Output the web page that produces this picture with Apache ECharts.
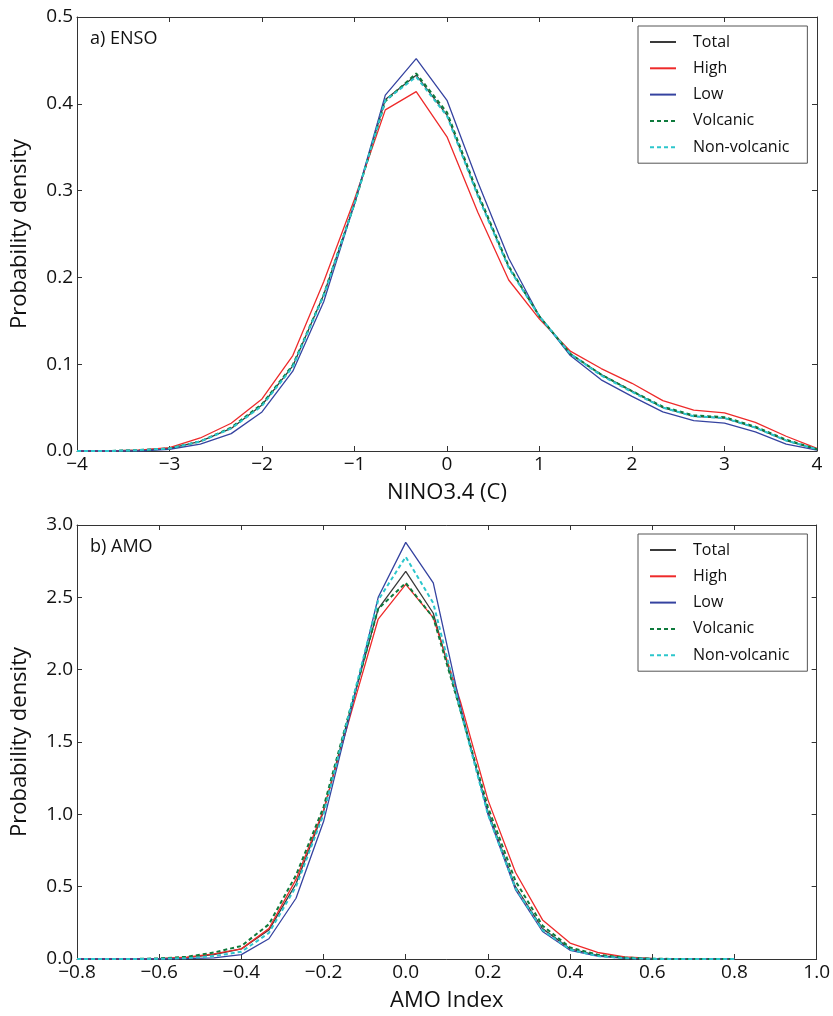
<!DOCTYPE html>
<html>
<head>
<meta charset="utf-8">
<script src="https://cdn.jsdelivr.net/npm/echarts@6/dist/echarts.min.js"></script>
<style>
html,body{margin:0;padding:0;background:#fff;}
#c{width:833px;height:1016px;}
</style>
</head>
<body>
<div id="c"></div>
<script>
// ---- ENSO panel data ----
var ensoX = [-4,-3.667,-3.333,-3,-2.667,-2.333,-2,-1.667,-1.333,-1,-0.667,-0.333,0,0.333,0.667,1,1.333,1.667,2,2.333,2.667,3,3.333,3.667,4];
var ensoTotal = [0,0,0.001,0.003,0.011,0.026,0.053,0.098,0.180,0.285,0.405,0.433,0.387,0.295,0.212,0.155,0.112,0.088,0.069,0.050,0.040,0.038,0.027,0.012,0.002];
var ensoHigh = [0,0,0.001,0.004,0.015,0.032,0.060,0.110,0.195,0.290,0.393,0.414,0.362,0.275,0.197,0.152,0.115,0.095,0.078,0.058,0.047,0.044,0.033,0.017,0.003];
var ensoLow = [0,0,0,0.002,0.008,0.020,0.045,0.092,0.172,0.285,0.410,0.452,0.404,0.310,0.222,0.155,0.110,0.082,0.063,0.045,0.035,0.032,0.022,0.008,0.001];
var ensoVolc = [0,0,0.001,0.003,0.011,0.027,0.054,0.099,0.180,0.285,0.403,0.435,0.390,0.297,0.213,0.155,0.112,0.088,0.069,0.051,0.041,0.039,0.028,0.013,0.002];
var ensoNonVolc = [0,0,0.001,0.003,0.011,0.026,0.052,0.097,0.179,0.285,0.404,0.431,0.386,0.294,0.211,0.155,0.112,0.087,0.068,0.050,0.040,0.038,0.027,0.012,0.002];

// ---- AMO panel data ----
var amoX = [-0.8,-0.733,-0.667,-0.6,-0.533,-0.467,-0.4,-0.333,-0.267,-0.2,-0.133,-0.067,0,0.067,0.133,0.2,0.267,0.333,0.4,0.467,0.533,0.6,0.667,0.733,0.8];
var amoTotal = [0,0,0,0.002,0.010,0.030,0.070,0.200,0.520,1.020,1.740,2.420,2.680,2.390,1.720,1.020,0.500,0.210,0.070,0.025,0.008,0.002,0,0,0];
var amoHigh = [0,0,0,0.003,0.012,0.035,0.070,0.210,0.550,1.030,1.700,2.350,2.590,2.360,1.780,1.100,0.600,0.270,0.110,0.045,0.015,0.004,0.001,0,0];
var amoLow = [0,0,0,0,0.002,0.008,0.030,0.140,0.420,0.950,1.720,2.500,2.880,2.600,1.750,1.000,0.480,0.190,0.060,0.020,0.005,0.001,0,0,0];
var amoVolc = [0,0,0,0.004,0.015,0.045,0.090,0.240,0.580,1.050,1.750,2.420,2.600,2.360,1.720,1.050,0.540,0.230,0.080,0.030,0.010,0.002,0,0,0];
var amoNonVolc = [0,0,0,0.001,0.006,0.020,0.050,0.180,0.500,1.000,1.750,2.480,2.780,2.460,1.720,1.000,0.490,0.200,0.065,0.020,0.006,0.001,0,0,0];

// ---- labels ----
var seriesNames = ['Total','High','Low','Volcanic','Non-volcanic'];
var panelTitles = ['a) ENSO','b) AMO'];
var xNames = ['NINO3.4 (C)','AMO Index'];
var yName = 'Probability density';

var colors = {'Total':'#3a3a3a','High':'#ee2a2a','Low':'#3543a0','Volcanic':'#0e7a3c','Non-volcanic':'#2cc6cc'};
var FONT = '"Open Sans", "DejaVu Sans", sans-serif';

function pairs(xs, ys){ return xs.map(function(x,i){ return [x, ys[i]]; }); }
function fmtNum(dec){ return function(v){ var s = Math.abs(v) < 1e-9 ? (0).toFixed(dec) : v.toFixed(dec); return s.replace('-', '\u2212'); }; }

var gridTops = [17, 525];
var grids = gridTops.map(function(t){ return {left:77, right:16, top:t, height:434, show:false}; });

function xAx(gi, min, max, interval, dec, name, isTop){
  return {
    type:'value', gridIndex:gi, min:min, max:max, interval:interval,
    position: isTop ? 'top' : 'bottom',
    name: isTop ? '' : name, nameLocation:'middle', nameGap:31,
    nameTextStyle:{fontFamily:FONT, fontSize:22, color:'#111'},
    axisLine:{show:true, onZero:false, lineStyle:{color:'#333', width:1}},
    axisTick:{show:true, inside:true, length:5, lineStyle:{color:'#333'}},
    axisLabel:{show:!isTop, formatter:fmtNum(dec), fontFamily:FONT, fontSize:19, color:'#111', margin:4},
    splitLine:{show:false}
  };
}
function yAx(gi, min, max, interval, isRight){
  return {
    type:'value', gridIndex:gi, min:min, max:max, interval:interval,
    position: isRight ? 'right' : 'left',
    name: isRight ? '' : yName, nameLocation:'middle', nameGap:46,
    nameTextStyle:{fontFamily:FONT, fontSize:22, color:'#111'},
    axisLine:{show:true, onZero:false, lineStyle:{color:'#333', width:1}},
    axisTick:{show:true, inside:true, length:5, lineStyle:{color:'#333'}},
    axisLabel:{show:!isRight, formatter:fmtNum(1), fontFamily:FONT, fontSize:19, color:'#111', margin:4},
    splitLine:{show:false}
  };
}

var xAxes = [
  xAx(0,-4,4,1,0,xNames[0],false), xAx(0,-4,4,1,0,'',true),
  xAx(1,-0.8,1.0,0.2,1,xNames[1],false), xAx(1,-0.8,1.0,0.2,1,'',true)
];
var yAxes = [
  yAx(0,0,0.5,0.1,false), yAx(0,0,0.5,0.1,true),
  yAx(1,0,3.0,0.5,false), yAx(1,0,3.0,0.5,true)
];

var panelData = [
  {x:ensoX, ys:[ensoTotal,ensoHigh,ensoLow,ensoVolc,ensoNonVolc], xi:0, yi:0},
  {x:amoX, ys:[amoTotal,amoHigh,amoLow,amoVolc,amoNonVolc], xi:2, yi:2}
];
var series = [];
panelData.forEach(function(p){
  seriesNames.forEach(function(n, k){
    var dashed = (n === 'Volcanic' || n === 'Non-volcanic');
    series.push({
      type:'line', name:n, xAxisIndex:p.xi, yAxisIndex:p.yi,
      data:pairs(p.x, p.ys[k]), symbol:'none', smooth:false, animation:false,
      color:colors[n],
      lineStyle:{color:colors[n], width: dashed ? 2 : 1.3, type: dashed ? [4,3] : 'solid'},
      z: (n === 'Total') ? 2 : (dashed ? 4 : 3)
    });
  });
});

var legends = gridTops.map(function(t){
  return {
    orient:'vertical', left:638, top:t+9, data:seriesNames.slice(),
    itemWidth:26, itemHeight:14, itemGap:10.3,
    padding:[8,18,8,11],
    borderColor:'#555', borderWidth:1, backgroundColor:'#fff',
    selectedMode:false,
    itemStyle:{opacity:0},
    lineStyle:{width:2},
    textStyle:{fontFamily:FONT, fontSize:16, lineHeight:15, color:'#111', padding:[0,0,0,12]}
  };
});

var titles = panelTitles.map(function(s, i){
  return {text:s, left:90, top:gridTops[i]+13, padding:0, textStyle:{fontFamily:FONT, fontSize:18, fontWeight:'normal', color:'#111'}};
});

var chart = echarts.init(document.getElementById('c'), null, {renderer:'canvas'});
chart.setOption({
  animation:false,
  backgroundColor:'#fff',
  title:titles,
  legend:legends,
  grid:grids,
  xAxis:xAxes,
  yAxis:yAxes,
  series:series
});
</script>
</body>
</html>
